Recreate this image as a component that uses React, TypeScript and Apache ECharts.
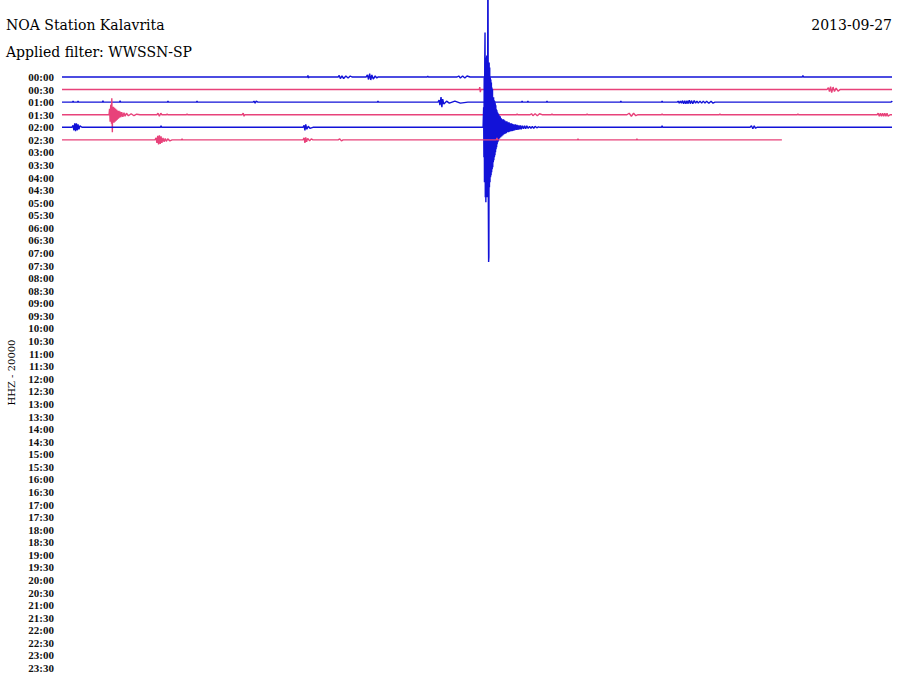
import React, { useEffect, useRef } from "react";
import * as echarts from "echarts";

const ROW_LABELS: string[] = [
  "00:00","00:30","01:00","01:30","02:00","02:30","03:00","03:30","04:00","04:30",
  "05:00","05:30","06:00","06:30","07:00","07:30","08:00","08:30","09:00","09:30",
  "10:00","10:30","11:00","11:30","12:00","12:30","13:00","13:30","14:00","14:30",
  "15:00","15:30","16:00","16:30","17:00","17:30","18:00","18:30","19:00","19:30",
  "20:00","20:30","21:00","21:30","22:00","22:30","23:00","23:30",
];

// amplitude units per row spacing
const AMP_PER_ROW = 12.6;

// [minute within row, amplitude (positive = up)]
const row0000: number[][] = [
  [0,0],[8.87,0],[8.89,1.5],[8.91,-1],[8.93,0],
  [9.98,0],[10.02,1.5],[10.06,-1.5],[10.12,1],[10.18,-1.5],[10.26,1],[10.34,-1],[10.42,1],[10.48,0],
  [10.99,0],[11.04,2],[11.08,-2.5],[11.12,3.5],[11.16,-3],[11.2,2],[11.25,-2],[11.32,1],[11.38,-1],[11.42,0],
  [13.2,0],[13.22,1],[13.24,0],
  [14.28,0],[14.34,1],[14.4,-1],[14.48,1],[14.56,-1],[14.64,1],[14.75,0],
  [26.76,0],[26.78,1.5],[26.8,0],[30,0],
];
const row0030: number[][] = [
  [0,0],[15.08,0],[15.1,2.5],[15.12,-2.5],[15.14,0],
  [27.65,0],[27.7,2],[27.74,-2],[27.78,3],[27.82,-3],[27.87,2.5],[27.92,-2],[27.98,1.5],[28.05,-1.5],[28.12,0],
  [30,0],
];
const row0100: number[][] = [
  [0,0],[0.38,0],[0.4,1],[0.42,0],[0.56,0],[0.58,1],[0.6,0],
  [1.46,0],[1.48,1.5],[1.5,0],[2.08,0],[2.1,1.5],[2.12,0],
  [3.81,0],[3.83,1],[3.85,0],[4.86,0],[4.88,1],[4.9,0],
  [6.9,0],[6.94,1],[6.98,-1],[7.02,1],[7.08,0],
  [11.4,0],[11.42,1],[11.44,0],
  [13.59,0],[13.63,2],[13.66,-3],[13.7,5],[13.73,-5],[13.76,3],[13.8,-2],[13.9,1],[14.0,-1],[14.2,1],[14.4,-1],[14.67,0],
  [16.61,0],[16.63,1],[16.65,0],[16.82,0],[16.84,1],[16.86,0],
  [17.51,0],[17.53,1],[17.55,0],[20.18,0],[20.2,1],[20.22,0],[21.67,0],[21.69,1],[21.71,0],
  [22.23,0],[22.27,1],[22.31,-1],[22.35,1],[22.39,-1],[22.43,1.5],[22.47,-1.5],[22.51,1.5],[22.55,-1.5],
  [22.59,1.5],[22.63,-1.5],[22.67,2],[22.71,-1.5],[22.75,1.5],[22.8,-1.5],[22.85,1.5],[22.9,-1],[22.95,1],
  [23.0,-1],[23.06,1],[23.12,-1],[23.18,1],[23.24,-1],[23.3,1],[23.38,-1],[23.46,1],[23.53,-1],[23.6,0],
  [29.97,0],[29.99,1],[30,0],
];
const row0130: number[][] = [
  [0,0],[1.7,0],[1.72,6],[1.74,-7],[1.76,9],[1.77,10],[1.79,-9],[1.8,16.5],[1.82,-17.5],[1.83,8],[1.84,-8],
  [1.86,8],[1.88,-8],[1.9,7],[1.92,-7],[1.94,6],[1.96,-6],[1.98,5],[2.0,-5],[2.02,4],[2.04,-4],[2.06,4],
  [2.08,-3],[2.1,3],[2.13,-2.5],[2.16,2.5],[2.2,-2],[2.24,2],[2.28,-1.5],[2.33,1.5],[2.4,-1],[2.5,1],
  [2.6,-1],[2.7,0.5],[2.82,0],
  [3.43,0],[3.47,1.5],[3.52,-1.5],[3.57,1.5],[3.61,0],
  [3.78,0],[3.8,1],[3.82,0],[4.5,0],[4.52,1],[4.54,0],
  [6.51,0],[6.55,1.5],[6.58,-1.5],[6.61,0],
  [16.43,0],[16.45,1],[16.47,0],
  [16.92,0],[16.97,1],[17.02,-1],[17.1,1],[17.18,-1],[17.26,1],[17.35,0],
  [17.69,0],[17.71,1],[17.73,0],[18.96,0],[18.98,1],[19.0,0],
  [20.42,0],[20.5,1.5],[20.58,-1.5],[20.66,1.5],[20.74,-1],[20.82,0],
  [21.67,0],[21.69,1],[21.71,0],[23.76,0],[23.78,1],[23.8,0],[26.58,0],[26.6,1],[26.62,0],
  [29.46,0],[29.5,1.5],[29.54,-1.5],[29.58,1.5],[29.62,-1.5],[29.66,1.5],[29.7,-1.5],[29.74,1.5],
  [29.78,-1.5],[29.82,1.5],[29.86,-1.5],[29.93,0],[30,0],
];
const row0200: number[][] = [
  [0,0],[0.36,0],[0.4,2],[0.43,-3],[0.46,4],[0.49,-4],[0.52,4],[0.55,-3],[0.58,3],[0.61,-2],[0.65,1.5],[0.72,0],
  [3.56,0],[3.58,1.5],[3.6,0],
  [8.71,0],[8.75,2],[8.78,-3],[8.81,3],[8.85,-2],[8.9,1],[8.96,-1],[9.07,0],
  [15.22,0],[15.24,20],[15.25,-30],[15.26,50],[15.27,-55],[15.28,65],[15.29,95],[15.3,-70],[15.31,60],
  [15.32,-75],[15.33,70],[15.34,-65],[15.35,72],[15.36,-70],[15.37,68],[15.38,-60],[15.39,140],[15.4,135],
  [15.41,-80],[15.42,-135],[15.43,-130],[15.44,65],[15.45,-60],[15.46,60],[15.47,-55],[15.48,50],[15.49,-50],
  [15.5,48],[15.51,-48],[15.52,45],[15.53,-45],[15.54,40],[15.55,-42],[15.56,38],[15.57,-40],[15.58,30],
  [15.59,-35],[15.6,30],[15.61,-33],[15.62,27],[15.63,-30],[15.64,26],[15.65,-28],[15.66,24],[15.67,-25],
  [15.68,22],[15.69,-22],[15.7,18],[15.71,-20],[15.72,17],[15.73,-17],[15.74,15],[15.75,-15],[15.76,14],
  [15.77,-14],[15.78,13],[15.79,-12],[15.8,12],[15.82,-11],[15.84,11],[15.86,-10],[15.88,9],[15.9,-9],
  [15.92,8],[15.94,-8],[15.96,8],[15.98,-7],[16.0,7],[16.02,-6.5],[16.04,6],[16.06,-6],[16.08,6],[16.1,-5],
  [16.12,5],[16.14,-5],[16.16,5],[16.18,-4.5],[16.2,4],[16.22,-4],[16.24,4],[16.26,-4],[16.28,3.5],[16.3,-3.5],
  [16.33,3],[16.36,-3],[16.39,3],[16.42,-2.5],[16.45,2.5],[16.48,-2.5],[16.51,2],[16.54,-2],[16.57,2],
  [16.6,-2],[16.64,1.5],[16.68,-1.5],[16.72,1.5],[16.76,-1.5],[16.8,1.5],[16.85,-1],[16.9,1],[16.95,-1],
  [17.0,1],[17.05,-1],[17.1,1],[17.16,-0.5],[17.22,0.5],[17.28,0],
  [21.67,0],[21.69,1.5],[21.71,0],
  [24.87,0],[24.92,1.5],[24.97,-1.5],[25.02,1.5],[25.07,-1],[25.12,0],[30,0],
];
const row0230: number[][] = [
  [0,0],[3.36,0],[3.4,2],[3.43,-3],[3.46,4],[3.49,-4.5],[3.52,4.5],[3.55,-4],[3.58,3.5],[3.61,-3],[3.65,2],
  [3.69,-2],[3.73,1.5],[3.77,-1.5],[3.82,1],[3.9,-1],[3.98,0],
  [4.32,0],[4.34,1],[4.36,0],
  [8.71,0],[8.75,2],[8.78,-3],[8.81,2.5],[8.84,-2],[8.88,1.5],[8.95,-1],[9.01,1],[9.07,0],
  [9.98,0],[10.04,1],[10.1,-1],[10.16,0],
  [15.7,0],[15.72,2],[15.74,0],
  [18.63,0],[18.65,1],[18.67,0],[20.76,0],[20.78,1],[20.8,0],[26.02,0],
];

const TRACES: number[][][] = [row0000, row0030, row0100, row0130, row0200, row0230];
const TRACE_COLORS = ["#1212d8", "#e8427a", "#1212d8", "#e8427a", "#1212d8", "#e8427a"];

const STATION = "NOA Station Kalavrita";
const FILTER = "Applied filter: WWSSN-SP";
const DATE = "2013-09-27";
const CHANNEL = "HHZ - 20000";

export default function App() {
  const ref = useRef<HTMLDivElement>(null);
  useEffect(() => {
    if (!ref.current) return;
    const chart = echarts.init(ref.current, null, { renderer: "svg" });
    const series = TRACES.map((tr, i) => ({
      type: "line",
      data: tr.map(([t, a]) => [t, i - a / AMP_PER_ROW]),
      showSymbol: false,
      symbol: "none",
      clip: false,
      silent: true,
      lineStyle: { color: TRACE_COLORS[i], width: 1.4 },
    }));
    chart.setOption({
      animation: false,
      backgroundColor: "#ffffff",
      grid: { left: 62, right: 8, top: 77, bottom: 17, containLabel: false, outerBoundsMode: "none" },
      xAxis: { type: "value", min: 0, max: 30, show: false },
      yAxis: {
        type: "value",
        min: 0,
        max: 47,
        interval: 1,
        inverse: true,
        name: CHANNEL,
        nameLocation: "middle",
        nameRotate: 90,
        nameGap: 46,
        nameTextStyle: { fontFamily: "DejaVu Serif", fontSize: 10, color: "#000" },
        axisLine: { show: false },
        axisTick: { show: false },
        splitLine: { show: false },
        axisLabel: {
          margin: 8,
          fontFamily: "Liberation Serif",
          fontSize: 11,
          fontWeight: "bold",
          color: "#111",
          formatter: (v: number) => ROW_LABELS[Math.round(v)] ?? "",
        },
      },
      graphic: [
        { type: "text", left: 6, top: 18, style: { text: STATION, fontFamily: "DejaVu Serif", fontSize: 14, fill: "#000" } },
        { type: "text", left: 6, top: 45, style: { text: FILTER, fontFamily: "DejaVu Serif", fontSize: 14, fill: "#000" } },
        { type: "text", right: 8, top: 18, style: { text: DATE, fontFamily: "DejaVu Serif", fontSize: 14, fill: "#000" } },
      ],
      series,
    });
    return () => chart.dispose();
  }, []);
  return (
    <div
      ref={ref}
      style={{ position: "fixed", left: 0, top: 0, width: 900, height: 685 }}
    />
  );
}
